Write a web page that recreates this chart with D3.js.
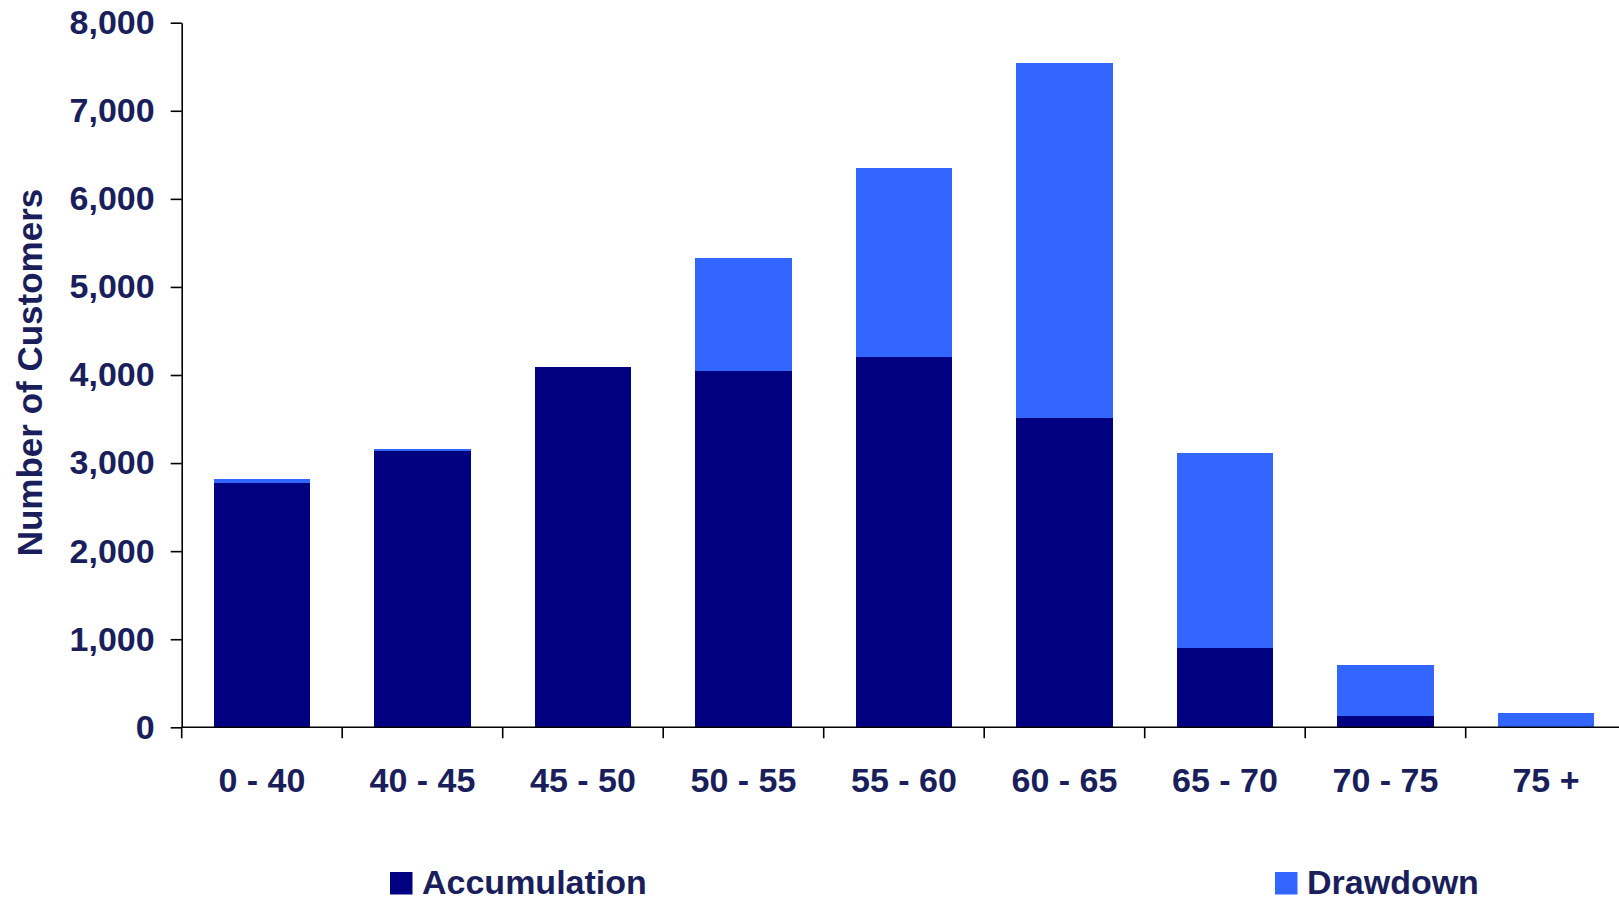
<!DOCTYPE html>
<html>
<head>
<meta charset="utf-8">
<script src="https://cdn.jsdelivr.net/npm/d3@7"></script>
<style>
  html, body { margin: 0; padding: 0; background: #ffffff; }
  svg { display: block; }
  text { font-family: "Liberation Sans", Arial, Helvetica, sans-serif; font-weight: bold; fill: #1a1f5c; }
</style>
</head>
<body>
<svg id="chart" width="1619" height="899"></svg>
<script>
// Customer counts by age band, split by product type
const categories = ["0 - 40", "40 - 45", "45 - 50", "50 - 55", "55 - 60", "60 - 65", "65 - 70", "70 - 75", "75 +"];
const accumulation = [2775, 3140, 4095, 4040, 4210, 3510, 900, 130, 0];
const drawdown = [45, 20, 0, 1290, 2135, 4035, 2215, 575, 160];
const seriesNames = ["Accumulation", "Drawdown"];
const seriesColors = ["#000080", "#3366ff"];
const yTicks = [0, 1000, 2000, 3000, 4000, 5000, 6000, 7000, 8000];
const yTitle = "Number of Customers";

const svg = d3.select("#chart");
const W = 1619, H = 899;

const rows = categories.map((c, i) => ({ category: c, Accumulation: accumulation[i], Drawdown: drawdown[i] }));
const stacked = d3.stack().keys(seriesNames)(rows);

const x = d3.scaleBand()
  .domain(categories)
  .range([181.7, 1626.2])
  .paddingInner(0.4)
  .paddingOuter(0.2);

const y = d3.scaleLinear()
  .domain([0, 8000])
  .range([727.3, 22.7]);

const color = d3.scaleOrdinal().domain(seriesNames).range(seriesColors);

// Stacked bars
svg.append("g")
  .selectAll("g")
  .data(stacked)
  .join("g")
  .attr("fill", d => color(d.key))
  .selectAll("rect")
  .data(d => d)
  .join("rect")
  .attr("x", d => x(d.data.category))
  .attr("y", d => y(d[1]))
  .attr("width", x.bandwidth())
  .attr("height", d => Math.max(0, y(d[0]) - y(d[1])))
  .attr("shape-rendering", "crispEdges");

// Y axis
const yAxis = d3.axisLeft(y)
  .tickValues(yTicks)
  .tickFormat(d3.format(","))
  .tickSize(11)
  .tickSizeOuter(0)
  .tickPadding(16);

const gy = svg.append("g")
  .attr("transform", `translate(${x.range()[0]},0)`)
  .call(yAxis);
gy.select(".domain").attr("stroke", "#000").attr("stroke-width", 1.6);
gy.selectAll(".tick line").attr("stroke", "#000").attr("stroke-width", 1.6);
gy.selectAll(".tick text")
  .attr("font-size", 34)
  .attr("font-family", null)
  .attr("fill", "#1a1f5c");

// X axis: baseline, boundary ticks and centred category labels
const gx = svg.append("g").attr("transform", `translate(0,${y(0)})`);
gx.append("line")
  .attr("x1", x.range()[0])
  .attr("x2", W)
  .attr("stroke", "#000")
  .attr("stroke-width", 1.6);

const boundaries = d3.range(categories.length + 1).map(i => x.range()[0] + i * x.step());
gx.selectAll("line.boundary")
  .data(boundaries)
  .join("line")
  .attr("class", "boundary")
  .attr("x1", d => d)
  .attr("x2", d => d)
  .attr("y1", 0)
  .attr("y2", 11)
  .attr("stroke", "#000")
  .attr("stroke-width", 1.6);

gx.selectAll("text.cat")
  .data(categories)
  .join("text")
  .attr("class", "cat")
  .attr("x", d => x(d) + x.bandwidth() / 2)
  .attr("y", 65)
  .attr("text-anchor", "middle")
  .attr("font-size", 34)
  .text(d => d);

// Y axis title
svg.append("text")
  .attr("transform", "translate(42,372.5) rotate(-90)")
  .attr("text-anchor", "middle")
  .attr("font-size", 35)
  .text(yTitle);

// Legend
const legendX = [390, 1275];
const legend = svg.append("g")
  .selectAll("g")
  .data(seriesNames)
  .join("g")
  .attr("transform", (d, i) => `translate(${legendX[i]},872)`);
legend.append("rect")
  .attr("width", 22.5)
  .attr("height", 22.5)
  .attr("fill", d => color(d));
legend.append("text")
  .attr("x", 32)
  .attr("y", 22.3)
  .attr("font-size", 34)
  .text(d => d);
</script>
</body>
</html>
